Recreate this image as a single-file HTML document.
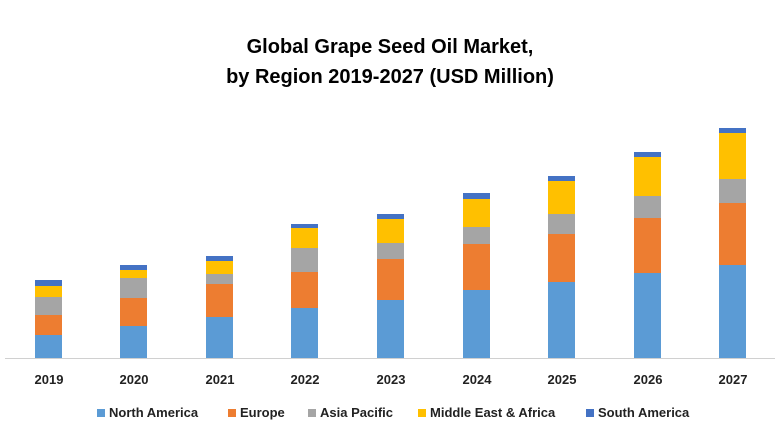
<!DOCTYPE html>
<html><head><style>
body{margin:0;width:780px;height:440px;background:#fff;position:relative;overflow:hidden;font-family:"Liberation Sans",sans-serif;}
.t{position:absolute;left:0;width:780px;text-align:center;font-weight:bold;font-size:20px;color:#000;}
.s{position:absolute;}
.x{position:absolute;top:372px;width:60px;text-align:center;font-weight:bold;font-size:13px;color:#222;}
.lg{position:absolute;top:405px;font-weight:bold;font-size:13px;color:#222;white-space:nowrap;}
.lg i{display:inline-block;width:8px;height:8px;margin-right:4px;vertical-align:0px;}
</style></head><body>
<div class="t" style="top:36px">Global Grape Seed Oil Market,</div>
<div class="t" style="top:66px">by Region 2019-2027 (USD Million)</div>
<div style="position:absolute;left:5px;top:358px;width:770px;height:1px;background:#d0d0d0"></div>
<div id="c"></div>
<div class="lg" style="left:97px"><i style="background:#5b9bd5"></i>North America</div>
<div class="lg" style="left:228px"><i style="background:#ed7d31"></i>Europe</div>
<div class="lg" style="left:308px"><i style="background:#a5a5a5"></i>Asia Pacific</div>
<div class="lg" style="left:418px"><i style="background:#ffc000"></i>Middle East &amp; Africa</div>
<div class="lg" style="left:586px"><i style="background:#4472c4"></i>South America</div>
<script>
var d=[[35,2019,280,286,297,315,335],[120,2020,265,270,278,298,326],[206,2021,256,261,274,284,317],[291,2022,224,228,248,272,308],[377,2023,214,219,243,259,300],[463,2024,193,199,227,244,290],[548,2025,176,181,214,234,282],[634,2026,152,157,196,218,273],[719,2027,128,133,179,203,265]];
var col=["#4472c4","#ffc000","#a5a5a5","#ed7d31","#5b9bd5"];var h="";
d.forEach(function(r){var ys=[r[2],r[3],r[4],r[5],r[6],358];
for(var i=0;i<5;i++)h+='<div class="s" style="left:'+r[0]+'px;width:27px;top:'+ys[i]+'px;height:'+(ys[i+1]-ys[i])+'px;background:'+col[i]+'"></div>';
h+='<div class="x" style="left:'+(r[0]-16)+'px">'+r[1]+'</div>';});
document.getElementById("c").innerHTML=h;
</script>
</body></html>
